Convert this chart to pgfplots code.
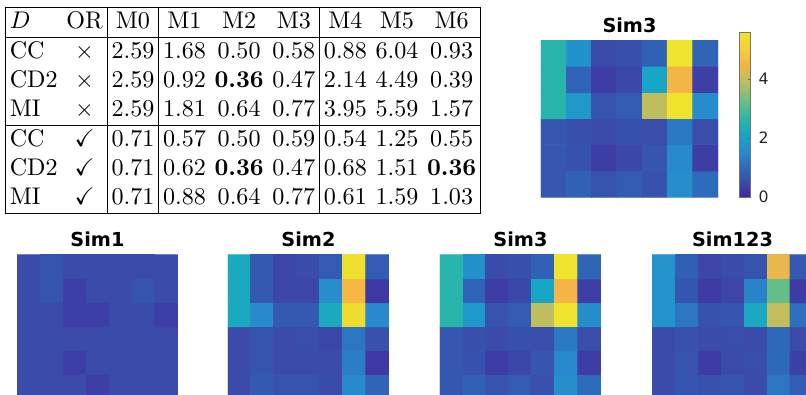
\documentclass[border=0pt]{standalone}
\usepackage{pgfplots}
\pgfplotsset{compat=1.18}
\usepackage{amssymb}
\usepackage{fontspec}
\newfontfamily\dvs{DejaVu Sans}
\pgfplotsset{
  colormap={parulaimg}{rgb255(0pt)=(62,38,168) rgb255(3.6pt)=(62,60,165) rgb255(5pt)=(58,75,170) rgb255(9pt)=(48,98,182) rgb255(15pt)=(40,138,204) rgb255(21pt)=(22,165,200) rgb255(26pt)=(40,180,170) rgb255(32pt)=(100,190,135) rgb255(39.5pt)=(190,190,95) rgb255(45pt)=(245,180,70) rgb255(50pt)=(245,205,55) rgb255(56pt)=(238,228,45)},
  hm/.style={scale only axis, hide axis, enlargelimits=false,
    xmin=-0.5, xmax=6.5, ymin=-0.5, ymax=5.5,
    colormap name=parulaimg, point meta min=0, point meta max=5.6,
    title style={font=\dvs\bfseries\fontsize{8}{9}\selectfont, at={(0.5,1)}, anchor=base, yshift=-2.7pt, inner sep=0pt}},
  hmplot/.style={matrix plot*, mesh/cols=7, point meta=explicit},
}
\begin{document}
\begin{tikzpicture}
\useasboundingbox (0pt,0pt) rectangle (334.5pt,-163.9pt);
\clip (0pt,0pt) rectangle (334.5pt,-163.9pt);
\node[anchor=north west, inner sep=0pt] at (2.08pt,-2.9pt) {\setlength\tabcolsep{1.8pt}%
\begin{tabular}{|lc|c|ccc|ccc|}
\hline
$D$ & OR & M0 & M1 & M2 & M3 & M4 & M5 & M6\\ \hline
CC  & $\times$ & 2.59 & 1.68 & 0.50 & 0.58 & 0.88 & 6.04 & 0.93\\
CD2 & $\times$ & 2.59 & 0.92 & \textbf{0.36} & 0.47 & 2.14 & 4.49 & 0.39\\
MI  & $\times$ & 2.59 & 1.81 & 0.64 & 0.77 & 3.95 & 5.59 & 1.57\\ \hline
CC  & $\checkmark$ & 0.71 & 0.57 & 0.50 & 0.59 & 0.54 & 1.25 & 0.55\\
CD2 & $\checkmark$ & 0.71 & 0.62 & \textbf{0.36} & 0.47 & 0.68 & 1.51 & \textbf{0.36}\\
MI  & $\checkmark$ & 0.71 & 0.88 & 0.64 & 0.77 & 0.61 & 1.59 & 1.03\\ \hline
\end{tabular}};
% top Sim3 with colorbar
\begin{axis}[hm, at={(224.5pt,-16.6pt)}, anchor=north west, width=73.5pt, height=65.2pt, title={Sim3},
  colorbar, colorbar shift/.style={},
  colorbar style={at={(parent axis.north east)}, anchor=north west, xshift=8.7pt, yshift=3.3pt,
    scale only axis, width=4.6pt, height=68.5pt, ytick={0,2,4}, ytick pos=right, tick align=inside,
    major tick length=1pt, axis line style={black!55}, tick style={black!60},
    yticklabel style={font=\dvs\fontsize{6.5}{7}\selectfont, text=black!85},
    /pgf/number format/assume math mode=true}]
\addplot[hmplot] coordinates {
(0,0)[0.71] (1,0)[0.88] (2,0)[0.64] (3,0)[0.77] (4,0)[0.61] (5,0)[1.59] (6,0)[1.03]
(0,1)[0.71] (1,1)[0.62] (2,1)[0.36] (3,1)[0.47] (4,1)[0.68] (5,1)[1.51] (6,1)[0.36]
(0,2)[0.71] (1,2)[0.57] (2,2)[0.50] (3,2)[0.59] (4,2)[0.54] (5,2)[1.25] (6,2)[0.55]
(0,3)[2.59] (1,3)[1.81] (2,3)[0.64] (3,3)[0.77] (4,3)[3.95] (5,3)[5.59] (6,3)[1.57]
(0,4)[2.59] (1,4)[0.92] (2,4)[0.36] (3,4)[0.47] (4,4)[2.14] (5,4)[4.49] (6,4)[0.39]
(0,5)[2.59] (1,5)[1.68] (2,5)[0.50] (3,5)[0.58] (4,5)[0.88] (5,5)[5.6] (6,5)[0.93]
};
\end{axis}
% Sim1
\begin{axis}[hm, at={(7.06pt,-105.8pt)}, anchor=north west, width=66.8pt, height=59.5pt, title={Sim1}]
\addplot[hmplot] coordinates {
(0,0)[0.5] (1,0)[0.5] (2,0)[0.5] (3,0)[0.38] (4,0)[0.5] (5,0)[0.5] (6,0)[0.5]
(0,1)[0.5] (1,1)[0.5] (2,1)[0.38] (3,1)[0.5] (4,1)[0.5] (5,1)[0.5] (6,1)[0.5]
(0,2)[0.5] (1,2)[0.5] (2,2)[0.5] (3,2)[0.5] (4,2)[0.5] (5,2)[0.5] (6,2)[0.5]
(0,3)[0.5] (1,3)[0.5] (2,3)[0.38] (3,3)[0.38] (4,3)[0.5] (5,3)[0.5] (6,3)[0.38]
(0,4)[0.5] (1,4)[0.65] (2,4)[0.38] (3,4)[0.5] (4,4)[0.5] (5,4)[0.65] (6,4)[0.5]
(0,5)[0.5] (1,5)[0.65] (2,5)[0.5] (3,5)[0.5] (4,5)[0.5] (5,5)[0.5] (6,5)[0.5]
};
\end{axis}
% Sim2
\begin{axis}[hm, at={(94.6pt,-105.8pt)}, anchor=north west, width=66.8pt, height=59.5pt, title={Sim2}]
\addplot[hmplot] coordinates {
(0,0)[0.5] (1,0)[0.75] (2,0)[0.65] (3,0)[0.65] (4,0)[0.5] (5,0)[1.5] (6,0)[0.9]
(0,1)[0.5] (1,1)[0.65] (2,1)[0.5] (3,1)[0.5] (4,1)[0.5] (5,1)[1.3] (6,1)[0.3]
(0,2)[0.5] (1,2)[0.65] (2,2)[0.5] (3,2)[0.55] (4,2)[0.45] (5,2)[1.2] (6,2)[0.6]
(0,3)[2.25] (1,3)[1.5] (2,3)[0.75] (3,3)[0.75] (4,3)[2.25] (5,3)[5.4] (6,3)[1.5]
(0,4)[2.25] (1,4)[0.75] (2,4)[0.45] (3,4)[0.45] (4,4)[1.6] (5,4)[4.6] (6,4)[0.3]
(0,5)[2.25] (1,5)[0.75] (2,5)[0.45] (3,5)[0.5] (4,5)[0.8] (5,5)[5.5] (6,5)[0.8]
};
\end{axis}
% Sim3 bottom
\begin{axis}[hm, at={(182.6pt,-105.8pt)}, anchor=north west, width=66.8pt, height=59.5pt, title={Sim3}]
\addplot[hmplot] coordinates {
(0,0)[0.71] (1,0)[0.88] (2,0)[0.64] (3,0)[0.77] (4,0)[0.61] (5,0)[1.59] (6,0)[1.03]
(0,1)[0.71] (1,1)[0.62] (2,1)[0.36] (3,1)[0.47] (4,1)[0.68] (5,1)[1.51] (6,1)[0.36]
(0,2)[0.71] (1,2)[0.57] (2,2)[0.50] (3,2)[0.59] (4,2)[0.54] (5,2)[1.25] (6,2)[0.55]
(0,3)[2.59] (1,3)[1.81] (2,3)[0.64] (3,3)[0.77] (4,3)[3.95] (5,3)[5.59] (6,3)[1.57]
(0,4)[2.59] (1,4)[0.92] (2,4)[0.36] (3,4)[0.47] (4,4)[2.14] (5,4)[4.49] (6,4)[0.39]
(0,5)[2.59] (1,5)[1.68] (2,5)[0.50] (3,5)[0.58] (4,5)[0.88] (5,5)[5.6] (6,5)[0.93]
};
\end{axis}
% Sim123
\begin{axis}[hm, at={(270.6pt,-105.8pt)}, anchor=north west, width=66.8pt, height=59.5pt, title={Sim123}]
\addplot[hmplot] coordinates {
(0,0)[0.5] (1,0)[0.7] (2,0)[0.6] (3,0)[0.65] (4,0)[0.5] (5,0)[1.2] (6,0)[0.8]
(0,1)[0.5] (1,1)[0.65] (2,1)[0.35] (3,1)[0.5] (4,1)[0.55] (5,1)[1.0] (6,1)[0.4]
(0,2)[0.5] (1,2)[0.6] (2,2)[0.5] (3,2)[0.55] (4,2)[0.5] (5,2)[1.0] (6,2)[0.5]
(0,3)[1.7] (1,3)[1.2] (2,3)[0.6] (3,3)[0.7] (4,3)[2.2] (5,3)[4.0] (6,3)[1.1]
(0,4)[1.7] (1,4)[0.7] (2,4)[0.35] (3,4)[0.45] (4,4)[1.4] (5,4)[3.2] (6,4)[0.35]
(0,5)[1.7] (1,5)[0.85] (2,5)[0.45] (3,5)[0.5] (4,5)[0.65] (5,5)[4.4] (6,5)[0.75]
};
\end{axis}
\end{tikzpicture}
\end{document}
